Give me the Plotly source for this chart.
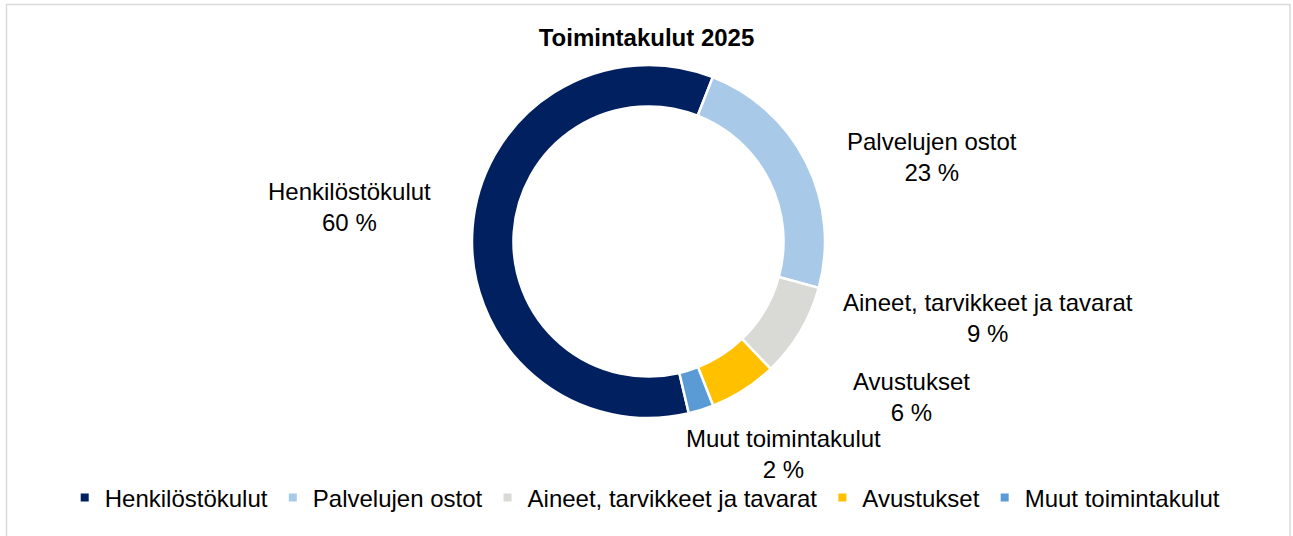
import plotly.graph_objects as go

# ---- data ----
categories = ["Henkilöstökulut", "Palvelujen ostot", "Aineet, tarvikkeet ja tavarat",
              "Avustukset", "Muut toimintakulut"]
shares = [59.6, 23.3, 8.6, 6.2, 2.3]  # percent of total
title_text = "Toimintakulut 2025"

# ---- styles / layout ----
colors = ["#002060", "#A9C9E9", "#D9D9D6", "#FFC000", "#5B9BD5"]
W, H = 1293, 536
FONT = "Liberation Sans, Arial, sans-serif"
cx, cy, r = 648.5, 241.5, 176.5  # donut centre and radius, px
# label block centres (px) for each category
label_pos = [(349.5, 207), (932, 157), (987.5, 318), (911, 397), (783.5, 454)]

fig = go.Figure()
fig.add_trace(go.Pie(
    labels=categories, values=shares, sort=False, direction="clockwise",
    rotation=166.8, hole=0.765,
    marker=dict(colors=colors, line=dict(color="white", width=2.5)),
    textinfo="none", hoverinfo="label+percent", showlegend=False,
    domain=dict(x=[(cx - r) / W, (cx + r) / W], y=[(H - cy - r) / H, (H - cy + r) / H]),
))

# legend entries with small square swatches
for name, col in zip(categories, colors):
    fig.add_trace(go.Scatter(x=[None], y=[None], mode="markers", name=name,
                             marker=dict(symbol="square", size=8, color=col)))

for name, v, (lx, ly) in zip(categories, shares, label_pos):
    fig.add_annotation(x=lx / W, y=1 - ly / H, xref="paper", yref="paper",
                       text=f"{name}<br>{round(v)} %", showarrow=False,
                       xanchor="center", yanchor="middle", align="center",
                       font=dict(family=FONT, size=24, color="#000000"))

fig.add_shape(type="rect", xref="paper", yref="paper",
              x0=6.5 / W, x1=1290 / W, y0=-0.05, y1=1 - 4.5 / H,
              line=dict(color="#D9D9D9", width=1.5), fillcolor="rgba(0,0,0,0)", layer="below")

fig.update_layout(
    width=W, height=H, margin=dict(l=0, r=0, t=0, b=0),
    paper_bgcolor="white", plot_bgcolor="white",
    title=dict(text=f"<b>{title_text}</b>", x=0.5, xanchor="center", xref="paper",
               y=1 - 38 / H, yanchor="middle", yref="container",
               font=dict(family=FONT, size=24, color="#000000")),
    xaxis=dict(visible=False), yaxis=dict(visible=False),
    legend=dict(orientation="h", x=0.499, xanchor="center", y=1 - 498 / H, yanchor="middle",
                font=dict(family=FONT, size=24, color="#000000"), bgcolor="rgba(0,0,0,0)"),
)

fig.write_html("out.html", config={"displayModeBar": False},
               post_script="document.body.style.margin='0';document.body.style.overflow='hidden';")
